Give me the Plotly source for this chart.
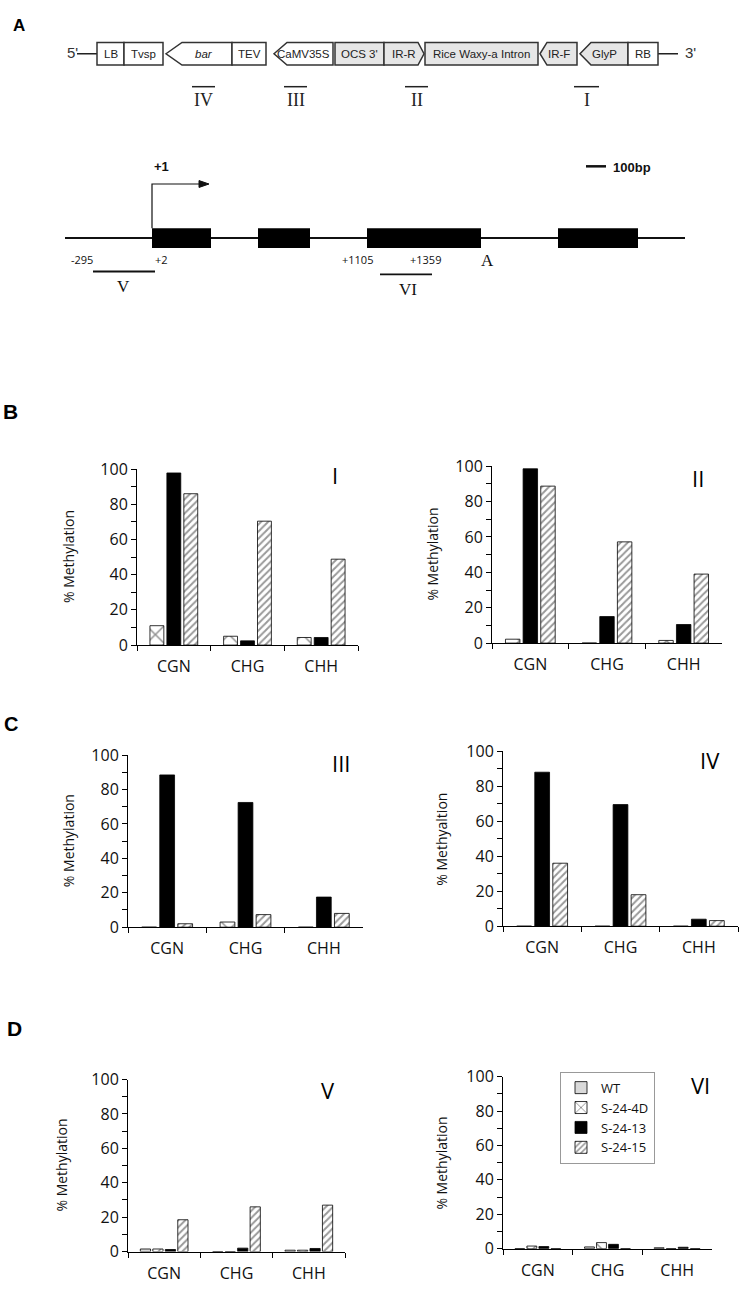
import plotly.graph_objects as go

W, H = 742, 1296

# ---------------- DATA ----------------
categories = ["CGN", "CHG", "CHH"]
series_names = ["WT", "S-24-4D", "S-24-13", "S-24-15"]

# Region I
I_4D = [11, 5, 4.3]
I_13 = [97.8, 2.4, 4.3]
I_15 = [86, 70.4, 48.8]
# Region II
II_4D = [2.2, 0, 1.5]
II_13 = [98.5, 15, 10.5]
II_15 = [88.7, 57.2, 39]
# Region III
III_4D = [0, 3, 0]
III_13 = [88.5, 72.5, 17.5]
III_15 = [2, 7.3, 8]
# Region IV
IV_4D = [0, 0, 0]
IV_13 = [88, 69.5, 4]
IV_15 = [36, 18, 3.2]
# Region V
V_WT = [1.5, 0, 0.8]
V_4D = [1.5, 0, 0.8]
V_13 = [1.2, 2, 1.8]
V_15 = [18.5, 26, 27]
# Region VI
VI_WT = [0, 1, 0.5]
VI_4D = [1.5, 3.5, 0]
VI_13 = [1.2, 2.5, 0.8]
VI_15 = [0, 0, 0]

y_ticks = [0, 20, 40, 60, 80, 100]

charts = [
    ("I", {"S-24-4D": I_4D, "S-24-13": I_13, "S-24-15": I_15}, "% Methylation"),
    ("II", {"S-24-4D": II_4D, "S-24-13": II_13, "S-24-15": II_15}, "% Methylation"),
    ("III", {"S-24-4D": III_4D, "S-24-13": III_13, "S-24-15": III_15}, "% Methylation"),
    ("IV", {"S-24-4D": IV_4D, "S-24-13": IV_13, "S-24-15": IV_15}, "% Methyaltion"),
    ("V", {"WT": V_WT, "S-24-4D": V_4D, "S-24-13": V_13, "S-24-15": V_15}, "% Methylation"),
    ("VI", {"WT": VI_WT, "S-24-4D": VI_4D, "S-24-13": VI_13, "S-24-15": VI_15}, "% Methylation"),
]

# ---------------- GEOMETRY (pixels) ----------------
# x0, x1, y(0), y(100), ytitle_x, roman_x, roman_y
geom = [
    (137, 358, 645, 466, 68, 335, 472),
    (492, 722, 643, 463, 433, 698, 475),
    (128, 363, 932, 757, 68, 341, 765),
    (503, 738, 931, 753, 442, 710, 762),
    (128, 345, 1262, 1087, 62, 328, 1098),
    (503, 712, 1259, 1084, 442, 700, 1093),
]

styles = {
    "WT": dict(color="#d9d9d9", line=dict(color="#000", width=0.8)),
    "S-24-4D": dict(color="white", line=dict(color="#000", width=0.8),
                    pattern=dict(shape="x", size=13, solidity=0.22, fgcolor="#222", bgcolor="white")),
    "S-24-13": dict(color="#000", line=dict(color="#000", width=0.8)),
    "S-24-15": dict(color="white", line=dict(color="#000", width=0.8),
                    pattern=dict(shape="/", size=5, solidity=0.4, fgcolor="#333", bgcolor="white")),
}

FONT = "Open Sans"
fig = go.Figure()
layout = {}
annotations = []
shapes = []

for k, (roman, series, ylabel) in enumerate(charts, start=1):
    x0, x1, y0, y100, tx, rx, ry = geom[k - 1]
    xa = "x" if k == 1 else f"x{k}"
    ya = "y" if k == 1 else f"y{k}"
    for name in series_names:
        if name in series:
            fig.add_trace(go.Bar(x=categories, y=series[name], name=name, xaxis=xa, yaxis=ya,
                                 marker=styles[name], showlegend=(k == 6), legendgroup=name))
    layout["xaxis" if k == 1 else f"xaxis{k}"] = dict(
        domain=[x0 / W, x1 / W], anchor=ya, type="category", range=[-0.5, 2.5],
        showline=True, linecolor="#000", linewidth=1, ticks="outside", tickson="boundaries",
        ticklen=5, tickcolor="#000", showgrid=False, zeroline=False,
        tickfont=dict(family=FONT, size=16, color="#111"), ticklabelstandoff=7, fixedrange=True)
    layout["yaxis" if k == 1 else f"yaxis{k}"] = dict(
        domain=[1 - y0 / H, 1 - y100 / H], anchor=xa, range=[0, 100],
        tickvals=y_ticks, showline=True, linecolor="#000", linewidth=1, ticks="outside",
        ticklen=5, tickcolor="#000", showgrid=False, zeroline=False,
        minor=dict(dtick=10, ticks="outside", ticklen=5, tickcolor="#000", showgrid=False),
        tickfont=dict(family=FONT, size=16, color="#111"), fixedrange=True)
    annotations.append(dict(xref="paper", yref="paper", x=tx / W, y=1 - (y0 + y100) / 2 / H,
                            text=ylabel, textangle=-90, showarrow=False,
                            font=dict(family=FONT, size=14, color="#111"),
                            xanchor="center", yanchor="middle"))
    annotations.append(dict(xref="paper", yref="paper", x=rx / W, y=1 - ry / H, text=roman,
                            showarrow=False, font=dict(family=FONT, size=22, color="#000"),
                            xanchor="center", yanchor="middle"))

# overlay axes in pixel units for the schematic
fig.add_trace(go.Scatter(x=[None], y=[None], xaxis="x7", yaxis="y7", showlegend=False, hoverinfo="skip"))
layout["xaxis7"] = dict(domain=[0, 1], range=[0, W], visible=False, fixedrange=True, anchor="y7")
layout["yaxis7"] = dict(domain=[0, 1], range=[H, 0], visible=False, fixedrange=True, anchor="x7")


def ann(x, y, text, size=11, family="Liberation Sans", color="#222", bold=False, xanchor="center"):
    if bold:
        text = f"<b>{text}</b>"
    annotations.append(dict(xref="x7", yref="y7", x=x, y=y, text=text, showarrow=False,
                            font=dict(family=family, size=size, color=color),
                            xanchor=xanchor, yanchor="middle"))


def line(x0, y0, x1, y1, w=1.5, color="#222"):
    shapes.append(dict(type="line", xref="x7", yref="y7", x0=x0, y0=y0, x1=x1, y1=y1,
                       line=dict(color=color, width=w)))


def path(p, fill="white", lc="#333", w=1.5):
    shapes.append(dict(type="path", xref="x7", yref="y7", path=p, fillcolor=fill,
                       line=dict(color=lc, width=w)))


# panel letters
ann(19, 15, "A", size=17, family="Liberation Sans", color="#000", bold=True)
ann(10, 407, "B", size=21, family="Liberation Sans", color="#000", bold=True)
ann(11, 725, "C", size=20, family="Liberation Sans", color="#000", bold=True)
ann(14, 1035, "D", size=21, family="Liberation Sans", color="#000", bold=True)

# ---- construct (panel A, top) ----
construct_labels = ["LB", "Tvsp", "bar", "TEV", "CaMV35S", "OCS 3'", "IR-R",
                    "Rice Waxy-a Intron", "IR-F", "GlyP", "RB"]
# (x_start, x_end, head_end, kind, fill)
construct_geom = [
    (97, 124, None, "rect", "white"),
    (124, 163, None, "rect", "white"),
    (166, 232, 182, "left", "white"),
    (232, 266, None, "rect", "white"),
    (274, 333, 287, "left", "white"),
    (335, 384, None, "rect", "#e6e6e6"),
    (384, 424, 418, "right", "#e6e6e6"),
    (425, 538, None, "rect", "#e6e6e6"),
    (540, 577, 547, "left", "#e6e6e6"),
    (580, 628, 591, "left", "#e6e6e6"),
    (628, 658, None, "rect", "white"),
]
TOP, BOT, MID = 32, 55, 43.5
line(77, MID, 97, MID)
line(658, MID, 678, MID)
ann(72, 42, "5'", size=15, color="#333")
ann(690, 42, "3'", size=15, color="#333")
for lab, (a, b, h, kind, fill) in zip(construct_labels, construct_geom):
    if kind == "rect":
        p = f"M{a},{TOP} L{b},{TOP} L{b},{BOT} L{a},{BOT} Z"
    elif kind == "left":
        p = f"M{a},{MID} L{h},{TOP} L{b},{TOP} L{b},{BOT} L{h},{BOT} Z"
    else:
        p = f"M{a},{TOP} L{h},{TOP} L{b},{MID} L{h},{BOT} L{a},{BOT} Z"
    path(p, fill=fill)
    txt = "<i>bar</i>" if lab == "bar" else lab
    cx = (a + b) / 2 + (5 if lab == "bar" else 0)
    ann(cx, MID, txt, size=11.5, color="#222")

region_labels = ["IV", "III", "II", "I"]
region_spans = [(192, 215), (284, 307), (405, 428), (574, 599)]
for lab, (a, b) in zip(region_labels, region_spans):
    line(a, 77, b, 77, w=1.5)
    ann((a + b) / 2, 91, lab, size=18, family="Liberation Serif", color="#222")

# ---- gene diagram ----
GL = 231
line(65, GL, 685, GL, w=2, color="#111")
exons = [(152, 211), (258, 310), (367, 481), (558, 638)]
for a, b in exons:
    shapes.append(dict(type="rect", xref="x7", yref="y7", x0=a, x1=b, y0=GL - 10, y1=GL + 10,
                       fillcolor="#000", line=dict(width=0)))
shapes.append(dict(type="path", xref="x7", yref="y7", path=f"M152,{GL-10} L152,176 L201,176",
                   line=dict(color="#111", width=1.2)))
path("M199,172.5 L209,176 L199,179.5 Z", fill="#111", lc="#111", w=1)
ann(161, 158, "+1", size=13, color="#111", bold=True)
line(586, 158, 606, 158, w=2.5, color="#111")
ann(611, 159, "100bp", size=13, color="#111", bold=True, xanchor="left")

coord_labels = ["-295", "+2", "+1105", "+1359"]
coord_pos = [(82, 253), (161, 253), (357, 253), (425, 253)]
for lab, (x, y) in zip(coord_labels, coord_pos):
    ann(x, y, lab, size=11, color="#111", family="Open Sans")
ann(487, 254, "A", size=17, family="Liberation Serif", color="#111")
line(93, 265, 155, 265, w=1.8, color="#111")
ann(123, 280, "V", size=17, family="Liberation Serif", color="#111")
line(380, 268, 432, 268, w=1.8, color="#111")
ann(408, 283, "VI", size=17, family="Liberation Serif", color="#111")

fig.update_layout(
    width=W, height=H, margin=dict(l=0, r=0, t=0, b=0),
    paper_bgcolor="white", plot_bgcolor="rgba(0,0,0,0)",
    barmode="group", bargap=0.31, bargroupgap=0.18,
    showlegend=True,
    legend=dict(x=560 / W, y=1 - 1079 / H, xanchor="left", yanchor="top",
                bordercolor="#999", borderwidth=1, bgcolor="white",
                font=dict(family=FONT, size=13, color="#111"), tracegroupgap=0,
                itemwidth=30),
    annotations=annotations, shapes=shapes, **layout)

fig.write_html("out.html", config={"displayModeBar": False},
               post_script="document.body.style.margin='0';document.body.style.overflow='hidden';")
